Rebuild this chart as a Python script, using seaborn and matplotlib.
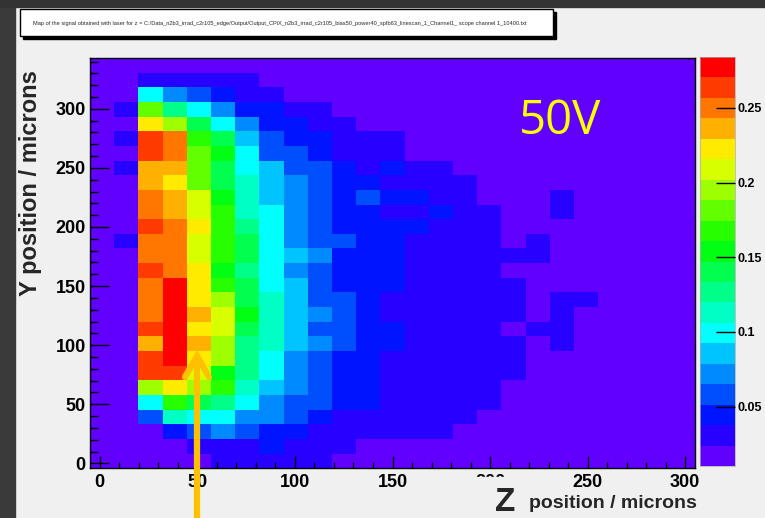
import numpy as np
import pandas as pd
import seaborn as sns
import matplotlib.pyplot as plt
from matplotlib.colors import ListedColormap, hsv_to_rgb
from matplotlib.patches import Rectangle
from matplotlib.lines import Line2D

# bin centres in microns
z_centers = [1.2, 13.6, 26.0, 38.4, 50.8, 63.2, 75.6, 88.0, 100.4, 112.8, 125.2, 137.6, 150.0,
             162.4, 174.8, 187.2, 199.6, 212.0, 224.4, 236.8, 249.2, 261.6, 274.0, 286.4, 298.8]
# top row first
y_centers = [336.8, 324.4, 312.0, 299.6, 287.2, 274.7, 262.3, 249.9, 237.5, 225.1, 212.7, 200.3, 187.9, 175.5,
             163.0, 150.6, 138.2, 125.8, 113.4, 101.0, 88.6, 76.2, 63.8, 51.3, 38.9, 26.5, 14.1, 1.7]

# signal (x 1e-3), one list per y bin, top row first
signal_milli = [
    [17, 17, 17, 17, 17, 17, 17, 17, 17, 17, 17, 17, 17, 17, 17, 17, 17, 17, 17, 17, 17, 17, 17, 17, 17],
    [17, 17, 31, 31, 31, 31, 31, 17, 17, 17, 17, 17, 17, 17, 17, 17, 17, 17, 17, 17, 17, 17, 17, 17, 17],
    [17, 17, 99, 72, 58, 45, 31, 31, 17, 17, 17, 17, 17, 17, 17, 17, 17, 17, 17, 17, 17, 17, 17, 17, 17],
    [17, 31, 181, 127, 99, 72, 45, 45, 31, 31, 17, 17, 17, 17, 17, 17, 17, 17, 17, 17, 17, 17, 17, 17, 17],
    [17, 17, 223, 195, 140, 99, 72, 45, 45, 31, 31, 17, 17, 17, 17, 17, 17, 17, 17, 17, 17, 17, 17, 17, 17],
    [17, 31, 264, 250, 168, 140, 86, 58, 45, 45, 31, 31, 31, 17, 17, 17, 17, 17, 17, 17, 17, 17, 17, 17, 17],
    [17, 17, 264, 250, 181, 154, 99, 58, 58, 45, 31, 31, 31, 17, 17, 17, 17, 17, 17, 17, 17, 17, 17, 17, 17],
    [17, 31, 236, 236, 181, 140, 99, 86, 58, 58, 45, 31, 45, 31, 31, 17, 17, 17, 17, 17, 17, 17, 17, 17, 17],
    [17, 17, 236, 223, 181, 140, 113, 86, 72, 58, 45, 45, 31, 31, 31, 31, 17, 17, 17, 17, 17, 17, 17, 17, 17],
    [17, 17, 250, 236, 209, 154, 113, 86, 72, 58, 45, 58, 45, 45, 31, 31, 17, 17, 17, 31, 17, 17, 17, 17, 17],
    [17, 17, 250, 236, 209, 168, 113, 99, 72, 58, 45, 45, 31, 31, 45, 31, 31, 17, 17, 31, 17, 17, 17, 17, 17],
    [17, 17, 264, 250, 223, 168, 127, 99, 72, 58, 45, 45, 45, 45, 31, 31, 31, 17, 17, 17, 17, 17, 17, 17, 17],
    [17, 31, 250, 250, 209, 168, 140, 99, 72, 58, 58, 45, 45, 31, 31, 31, 31, 17, 31, 17, 17, 17, 17, 17, 17],
    [17, 17, 250, 250, 209, 168, 140, 99, 86, 72, 45, 45, 45, 31, 31, 31, 31, 31, 31, 17, 17, 17, 17, 17, 17],
    [17, 17, 264, 250, 223, 154, 127, 99, 72, 58, 45, 45, 45, 31, 31, 31, 31, 17, 17, 17, 17, 17, 17, 17, 17],
    [17, 17, 250, 277, 223, 168, 140, 99, 86, 58, 45, 45, 45, 31, 31, 31, 31, 31, 17, 17, 17, 17, 17, 17, 17],
    [17, 17, 250, 277, 223, 195, 140, 113, 86, 58, 58, 45, 31, 31, 31, 31, 31, 31, 17, 31, 31, 17, 17, 17, 17],
    [17, 17, 250, 277, 236, 209, 154, 113, 86, 72, 58, 45, 31, 31, 31, 31, 31, 31, 17, 31, 17, 17, 17, 17, 17],
    [17, 17, 264, 277, 223, 209, 140, 113, 86, 58, 58, 45, 45, 31, 31, 31, 31, 17, 31, 31, 17, 17, 17, 17, 17],
    [17, 17, 236, 277, 236, 195, 127, 113, 86, 72, 58, 45, 45, 31, 31, 31, 31, 31, 17, 31, 17, 17, 17, 17, 17],
    [17, 17, 264, 277, 223, 195, 127, 99, 72, 58, 45, 45, 31, 31, 31, 31, 31, 31, 17, 17, 17, 17, 17, 17, 17],
    [17, 17, 264, 264, 209, 154, 127, 99, 72, 58, 45, 45, 31, 31, 31, 31, 31, 31, 17, 17, 17, 17, 17, 17, 17],
    [17, 17, 195, 223, 195, 168, 113, 86, 72, 58, 45, 45, 31, 31, 31, 31, 31, 17, 17, 17, 17, 17, 17, 17, 17],
    [17, 17, 99, 168, 140, 127, 99, 72, 58, 58, 45, 45, 31, 31, 31, 31, 31, 17, 17, 17, 17, 17, 17, 17, 17],
    [17, 17, 58, 113, 99, 99, 72, 72, 58, 45, 31, 31, 31, 31, 31, 31, 17, 17, 17, 17, 17, 17, 17, 17, 17],
    [17, 17, 17, 45, 58, 72, 58, 45, 45, 31, 31, 31, 31, 31, 31, 17, 17, 17, 17, 17, 17, 17, 17, 17, 17],
    [17, 17, 17, 17, 31, 31, 31, 45, 31, 31, 31, 17, 17, 17, 17, 17, 17, 17, 17, 17, 17, 17, 17, 17, 17],
    [17, 17, 17, 17, 17, 31, 31, 31, 31, 31, 17, 17, 17, 17, 17, 17, 17, 17, 17, 17, 17, 17, 17, 17, 17],
]

x_ticks = [0, 50, 100, 150, 200, 250, 300]
y_ticks = [0, 50, 100, 150, 200, 250, 300]
cbar_ticks = [0.05, 0.1, 0.15, 0.2, 0.25]
cbar_labels = ["0.05", "0.1", "0.15", "0.2", "0.25"]

title_text = ("Map of the signal obtained with laser for z = C:/Data_n2b3_irrad_c2r105_edge/Output/"
              "Output_CPiX_n2b3_irrad_c2r105_bias50_power40_spfb63_linescan_1_Channel1_ scope channel 1_10400.txt")

sns.set_style("ticks")
plt.rcParams['font.family'] = ['Liberation Sans', 'DejaVu Sans']

bg = '#f0f0f0'
W, H = 765, 518


def fx(px):
    return px / W


def fy(py):
    return 1 - py / H


fig = plt.figure(figsize=(7.65, 5.18), dpi=100, facecolor=bg)

# slide border
fig.add_artist(Rectangle((0, 0), fx(15), 1, transform=fig.transFigure, color='#3a3a3a', zorder=0))
fig.add_artist(Rectangle((0, fy(7)), 1, 1 - fy(7), transform=fig.transFigure, color='#333333', zorder=0))

ax = fig.add_axes([fx(90), fy(468.3), fx(695) - fx(90), fy(58) - fy(468.3)])
cax = fig.add_axes([fx(700), fy(466), fx(735) - fx(700), fy(57) - fy(466)])

# ROOT style rainbow palette, 20 levels
hues = np.linspace(263, 0, 20) / 360
cmap = ListedColormap(hsv_to_rgb(np.column_stack([hues, np.ones(20), np.ones(20)])))

df = pd.DataFrame(np.array(signal_milli) / 1000, index=y_centers, columns=z_centers)
sns.heatmap(df, ax=ax, cmap=cmap, vmin=0.0103, vmax=0.284, cbar_ax=cax,
            xticklabels=False, yticklabels=False, linewidths=0)

dz = z_centers[1] - z_centers[0]
dy = y_centers[0] - y_centers[1]


def zpos(v):
    return (v - z_centers[0]) / dz + 0.5


def ypos(v):
    return (y_centers[0] - v) / dy + 0.5


ax.set_xticks([zpos(v) for v in x_ticks])
ax.set_xticklabels([str(v) for v in x_ticks], rotation=0, fontweight='bold')
ax.set_xticks([zpos(v) for v in range(0, 301, 10)], minor=True)
ax.set_yticks([ypos(v) for v in y_ticks])
ax.set_yticklabels([str(v) for v in y_ticks], rotation=0, fontweight='bold')
ax.set_yticks([ypos(v) for v in range(0, 341, 10)], minor=True)
ax.set_xlabel('')
ax.set_ylabel('')
ax.set_axisbelow(False)

for s in ax.spines.values():
    s.set_visible(True)
    s.set_color('black')
    s.set_linewidth(1)

ax.tick_params(axis='x', which='major', direction='in', length=9, width=1, pad=4, labelsize=13, colors='black')
ax.tick_params(axis='x', which='minor', direction='in', length=4.5, width=1, colors='black')
ax.tick_params(axis='y', which='major', direction='in', length=13.5, width=1, pad=3, labelsize=13, colors='black')
ax.tick_params(axis='y', which='minor', direction='in', length=6, width=1, colors='black')

cbar = ax.collections[0].colorbar
cbar.set_ticks(cbar_ticks)
cbar.set_ticklabels(cbar_labels)
cbar.outline.set_linewidth(0.5)
cbar.outline.set_edgecolor('#aaaaaa')
cax.set_axisbelow(False)
cax.yaxis.set_ticks_position('right')
cax.tick_params(axis='y', which='major', direction='in', length=13.5, width=1, pad=2, labelsize=9, colors='black')
cax.tick_params(axis='y', which='minor', length=0)
for t in cax.get_yticklabels():
    t.set_fontweight('bold')

# title box with shadow
fig.add_artist(Rectangle((fx(23), fy(39)), fx(556) - fx(23), fy(12) - fy(39),
                         transform=fig.transFigure, color='black', zorder=2))
fig.add_artist(Rectangle((fx(20), fy(36)), fx(553) - fx(20), fy(9) - fy(36),
                         transform=fig.transFigure, facecolor='white', edgecolor='black', lw=1, zorder=3))
fig.text(fx(33), fy(23), title_text, fontsize=4.1, ha='left', va='center', zorder=4)

# axis titles
fig.text(fx(31), fy(183), 'Y position / microns', rotation=90, fontsize=17, fontweight='bold',
         ha='center', va='center')
fig.add_artist(Rectangle((fx(470), 0), fx(560) - fx(470), fy(477), transform=fig.transFigure,
                         color=bg, zorder=3))
fig.text(fx(495), fy(511), 'Z', fontsize=24, fontweight='bold', ha='left', va='baseline', zorder=4)
fig.text(fx(529), fy(508), 'position / microns', fontsize=14, fontweight='bold',
         ha='left', va='baseline', zorder=4)

# annotation
fig.text(fx(519), fy(121), '50V', fontsize=34, color='#ffff00', ha='left', va='center',
         family=['Open Sans', 'Liberation Sans'], zorder=4)

arrow_color = '#ffc000'
fig.add_artist(Line2D([fx(197), fx(197)], [fy(520), fy(362)], transform=fig.transFigure,
                      color=arrow_color, lw=4.5, solid_capstyle='butt', zorder=5))
fig.add_artist(Line2D([fx(185), fx(197), fx(209)], [fy(377), fy(356), fy(377)], transform=fig.transFigure,
                      color=arrow_color, lw=4.5, solid_joinstyle='miter', solid_capstyle='round', zorder=5))

fig.savefig('out.png', dpi=100, facecolor=bg)
